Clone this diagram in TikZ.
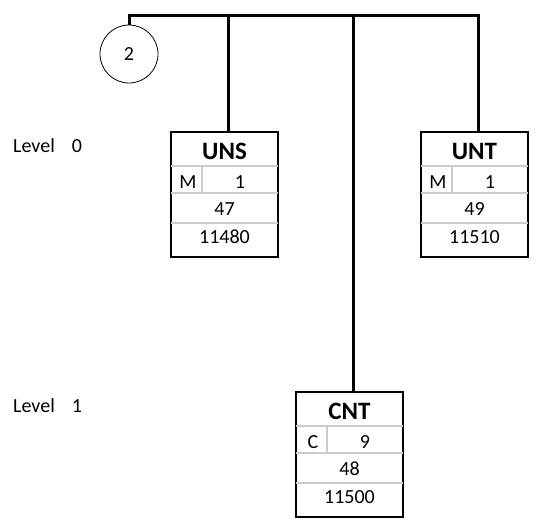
\documentclass[tikz,border=0pt]{standalone}
\usepackage{fontspec}
\setmainfont{Carlito}
\begin{document}
\begin{tikzpicture}[x=1pt,y=-1pt,
  unit/.style={draw, line width=1.8pt, minimum width=107pt, minimum height=125pt, inner sep=0pt, outer sep=0pt},
  head/.style={font=\fontsize{25}{30}\selectfont\bfseries, inner sep=0pt},
  cell/.style={font=\fontsize{20}{24}\selectfont, inner sep=0pt},
  rowline/.style={draw=black!20, line width=1.2pt},
  bus/.style={line width=3pt},
  lvltext/.style={font=\fontsize{20}{24}\selectfont, anchor=west, inner sep=0pt}]
\useasboundingbox (0,0) rectangle (540,525);
% level labels
\node[lvltext] (lvl0) at (13,145.7) {Level\hspace{17pt}0};
\node[lvltext] (lvl1) at (13,405.7) {Level\hspace{17pt}1};
% circle
\node[draw, circle, line width=0.8pt, minimum size=58pt, inner sep=0pt, outer sep=0pt, font=\fontsize{20}{24}\selectfont] (seq) at (129,54) {2};
% boxes
\node[unit] (uns) at (224.5,194.5) {};
\node[unit] (unt) at (474.5,194.5) {};
\node[unit] (cnt) at (349.5,454.5) {};
\foreach \b in {uns,unt,cnt} {
  \draw[rowline] ([yshift=-34pt]\b.north west) -- ([yshift=-34pt]\b.north east);
  \draw[rowline] ([yshift=-61pt]\b.north west) -- ([yshift=-61pt]\b.north east);
  \draw[rowline] ([yshift=-91pt]\b.north west) -- ([yshift=-91pt]\b.north east);
  \draw[rowline] ([xshift=31pt,yshift=-34pt]\b.north west) -- ([xshift=31pt,yshift=-61pt]\b.north west);
}
\node[head] (uns-name) at ([yshift=-19pt]uns.north) {UNS};
\node[cell] (uns-kind) at ([xshift=17pt,yshift=-50pt]uns.north west) {M};
\node[cell] (uns-qty) at ([xshift=69pt,yshift=-50pt]uns.north west) {1};
\node[cell] (uns-num) at ([yshift=-77pt]uns.north) {47};
\node[cell] (uns-code) at ([yshift=-105pt]uns.north) {11480};
\node[head] (unt-name) at ([yshift=-19pt]unt.north) {UNT};
\node[cell] (unt-kind) at ([xshift=17pt,yshift=-50pt]unt.north west) {M};
\node[cell] (unt-qty) at ([xshift=69pt,yshift=-50pt]unt.north west) {1};
\node[cell] (unt-num) at ([yshift=-77pt]unt.north) {49};
\node[cell] (unt-code) at ([yshift=-105pt]unt.north) {11510};
\node[head] (cnt-name) at ([yshift=-19pt]cnt.north) {CNT};
\node[cell] (cnt-kind) at ([xshift=17pt,yshift=-50pt]cnt.north west) {C};
\node[cell] (cnt-qty) at ([xshift=69pt,yshift=-50pt]cnt.north west) {9};
\node[cell] (cnt-num) at ([yshift=-77pt]cnt.north) {48};
\node[cell] (cnt-code) at ([yshift=-105pt]cnt.north) {11500};
% connectors
\coordinate (jend) at (478,15.7);
\coordinate (juns) at (228,15.7);
\coordinate (jcnt) at (353,15.7);
\draw[bus] (seq.north) |- (jend) -- (jend |- unt.north);
\draw[bus] (juns) -- (juns |- uns.north);
\draw[bus] (jcnt) -- (jcnt |- cnt.north);
\end{tikzpicture}
\end{document}
